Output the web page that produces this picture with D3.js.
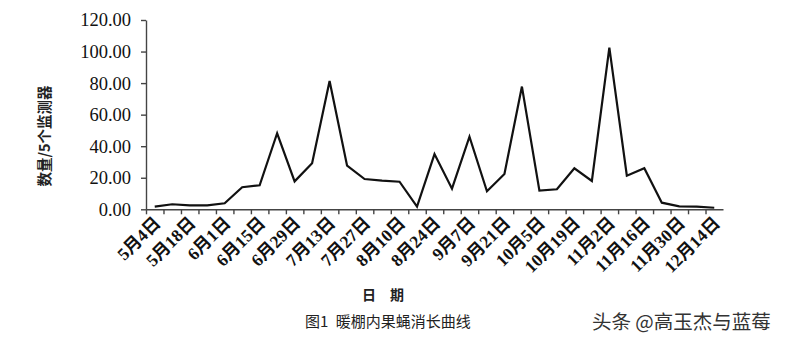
<!DOCTYPE html>
<html>
<head>
<meta charset="utf-8">
<script src="https://cdn.jsdelivr.net/npm/d3@7"></script>
<style>
  body { margin: 0; background: #fff; }
  svg { display: block; }
</style>
</head>
<body>
<script>
// weekly counts, 5/4 .. 12/14
const dates = ["5月4日","5月11日","5月18日","5月25日","6月1日","6月8日","6月15日","6月22日","6月29日",
  "7月6日","7月13日","7月20日","7月27日","8月3日","8月10日","8月17日","8月24日","8月31日",
  "9月7日","9月14日","9月21日","9月28日","10月5日","10月12日","10月19日","10月26日",
  "11月2日","11月9日","11月16日","11月23日","11月30日","12月7日","12月14日"];
const counts = [1.7, 3.2, 2.5, 2.5, 3.8, 14.0, 15.2, 48.2, 17.7, 29.2, 81.3, 27.7, 19.2, 18.2, 17.5, 1.7,
  35.0, 13.1, 46.0, 11.4, 22.4, 77.8, 11.8, 12.7, 26.0, 18.0, 102.5, 21.3, 26.0, 4.2, 1.9, 1.7, 1.0];
const yTicks = [0, 20, 40, 60, 80, 100, 120];

const W = 785, H = 343;
const plotLeft = 146, plotRight = 723, plotTop = 20, plotBottom = 209.3;

const svg = d3.select("body").append("svg")
  .attr("width", W).attr("height", H);

const x = d3.scaleBand().domain(dates).range([plotLeft, plotRight]);
const xEdge = d3.scaleLinear().domain([0, dates.length]).range([plotLeft, plotRight]);
const y = d3.scaleLinear().domain([0, 120]).range([plotBottom, plotTop]);

// y axis
const yAxis = svg.append("g")
  .attr("transform", `translate(${plotLeft},0)`)
  .call(d3.axisLeft(y).tickValues(yTicks).tickFormat(d3.format(".2f")).tickSize(5).tickSizeOuter(0).tickPadding(10));
yAxis.selectAll("path, line").attr("stroke", "#444").attr("stroke-width", 1.4);
yAxis.selectAll("text")
  .attr("font-family", "'Liberation Serif', serif")
  .attr("font-size", 18.5)
  .attr("fill", "#111");

// x axis, ticks between categories
const xAxis = svg.append("g")
  .attr("transform", `translate(0,${plotBottom})`)
  .call(d3.axisBottom(xEdge).tickValues(d3.range(dates.length)).tickFormat("").tickSize(5).tickSizeOuter(0));
xAxis.selectAll("path, line").attr("stroke", "#444").attr("stroke-width", 1.4);

// rotated labels every other week
svg.append("g").selectAll("text")
  .data(dates.filter((d, i) => i % 2 === 0))
  .join("text")
  .attr("transform", d => `translate(${x(d) + x.bandwidth() / 2 + 4},${plotBottom + 12}) rotate(-45)`)
  .attr("text-anchor", "end")
  .attr("dominant-baseline", "middle")
  .attr("font-family", "'Liberation Serif', 'Noto Sans CJK SC', serif")
  .attr("font-weight", "bold")
  .attr("font-size", 17.5)
  .attr("fill", "#111")
  .text(d => d);

// line
const line = d3.line()
  .x((d, i) => x(dates[i]) + x.bandwidth() / 2)
  .y(d => y(d));

svg.append("path")
  .datum(counts)
  .attr("d", line)
  .attr("fill", "none")
  .attr("stroke", "#111")
  .attr("stroke-width", 2.2)
  .attr("stroke-linejoin", "miter");

// titles
svg.append("text")
  .attr("transform", "translate(50,136) rotate(-90)")
  .attr("text-anchor", "middle")
  .attr("font-family", "'Noto Sans CJK SC', sans-serif")
  .attr("font-weight", "bold")
  .attr("font-size", 14.5)
  .attr("fill", "#222")
  .text("数量/5个监测器");

svg.append("text")
  .attr("x", 383).attr("y", 300)
  .attr("text-anchor", "middle")
  .attr("font-family", "'Noto Sans CJK SC', sans-serif")
  .attr("font-weight", "bold")
  .attr("font-size", 14)
  .attr("fill", "#222")
  .text("日\u2003期");

svg.append("text")
  .attr("x", 305).attr("y", 327)
  .attr("font-family", "'Noto Sans CJK SC', sans-serif")
  .attr("font-size", 15)
  .attr("fill", "#222")
  .text("图1\u2002暖棚内果蝇消长曲线");

svg.append("text")
  .attr("x", 592).attr("y", 329)
  .attr("font-family", "'Noto Sans CJK SC', sans-serif")
  .attr("font-size", 19.5)
  .attr("fill", "#333")
  .text("头条 @高玉杰与蓝莓");
</script>
</body>
</html>
